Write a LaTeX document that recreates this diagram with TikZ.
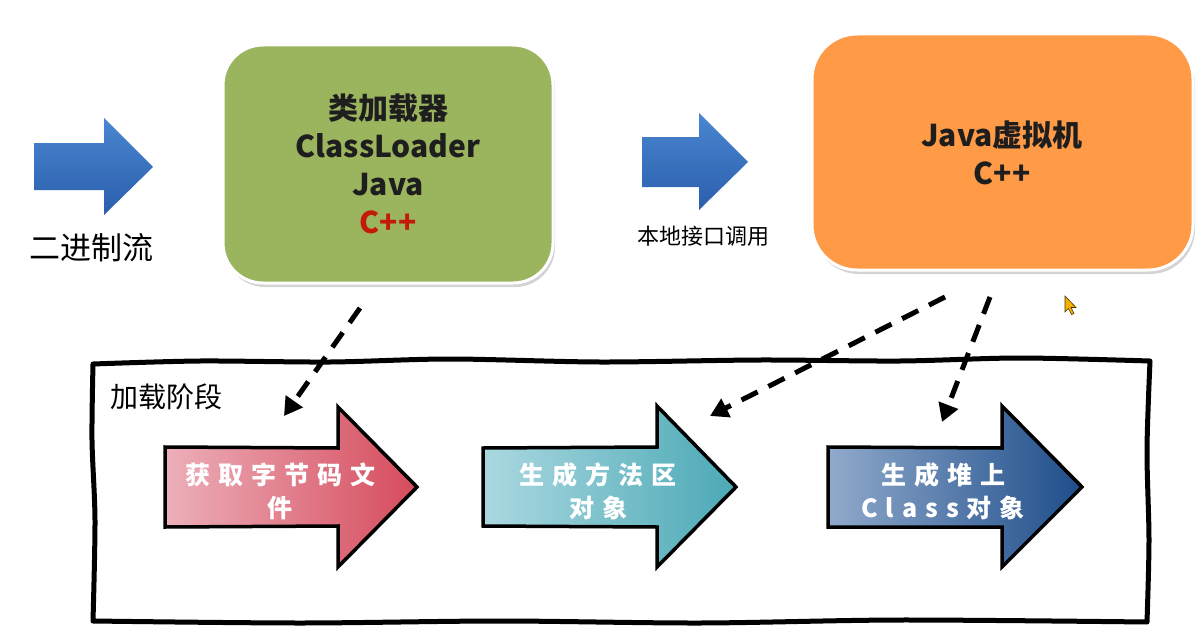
\documentclass[tikz,border=0pt]{standalone}
\usepackage{fontspec}
\setmainfont{Noto Sans CJK SC}
\usetikzlibrary{arrows.meta,shadows}
\definecolor{boxgreen}{HTML}{9BB45E}
\definecolor{boxorange}{HTML}{FF9A47}
\definecolor{bluetop}{HTML}{4A86D0}
\definecolor{bluebot}{HTML}{2A5EAC}
\definecolor{redL}{HTML}{ECB0BA}
\definecolor{redR}{HTML}{D64B5C}
\definecolor{cyanL}{HTML}{ABD8E0}
\definecolor{cyanR}{HTML}{4BA9B6}
\definecolor{navyL}{HTML}{90AACB}
\definecolor{navyR}{HTML}{1E4D8A}
\definecolor{darktext}{HTML}{1E1E1E}
\definecolor{cppred}{HTML}{C41A0A}
\definecolor{cursorfill}{HTML}{F5B000}
\begin{document}
\begin{tikzpicture}[x=1pt,y=-1pt,
  roundbox/.style={draw=white,line width=3pt,rounded corners=40pt,
    drop shadow={shadow xshift=2pt,shadow yshift=-4pt,opacity=0.35}},
  boxtext/.style={font=\fontsize{30}{38}\selectfont\bfseries,text=darktext,align=center},
  plaintext/.style={text=black},
  steparrow/.style={draw=black,line width=3.5pt,line join=miter},
  arrowtext/.style={font=\fontsize{25}{33}\selectfont\bfseries\addfontfeature{LetterSpace=32},text=white,align=center},
  dashconn/.style={line width=5pt,dash pattern=on 18pt off 12pt,-{Triangle[length=18pt,width=20pt]}},
  handbox/.style={draw=black,line width=5pt,line join=round}
]
\useasboundingbox (0,0) rectangle (1200,634);

% blue input arrows
\shade[top color=bluetop,bottom color=bluebot]
  (34,143) -- (104,143) -- (104,118) -- (153,167) -- (104,215) -- (104,190) -- (34,190) -- cycle;
\node[plaintext,font=\fontsize{31}{36}\selectfont] (bin) at (91,248) {二进制流};

\shade[top color=bluetop,bottom color=bluebot]
  (642,137) -- (699,137) -- (699,113) -- (748,162) -- (699,210) -- (699,187) -- (642,187) -- cycle;
\node[plaintext,font=\fontsize{22}{26}\selectfont] (jni) at (703,236) {本地接口调用};

% class loader box
\path[roundbox,fill=boxgreen] (223,45) rectangle (553,283);
\node[boxtext] (cl) at (388,164) {类加载器\\ClassLoader\\Java\\\textcolor{cppred}{C++}};

% JVM box
\path[roundbox,fill=boxorange,rounded corners=45pt] (812,34) rectangle (1193,270);
\node[boxtext] (jvm) at (1002,153) {Java虚拟机\\C++};

% hand-drawn loading stage frame
\draw[handbox]
  plot[smooth] coordinates {(93,364) (200,361) (330,362) (450,359) (600,362) (760,360) (900,361) (1020,358) (1150,361)}
  -- plot[smooth] coordinates {(1150,361) (1147,450) (1149,540) (1147,622)}
  -- plot[smooth] coordinates {(1147,622) (900,620) (700,623) (500,621) (300,623) (93,621)}
  -- plot[smooth] coordinates {(93,621) (95,520) (92,440) (93,364)} -- cycle;
\node[plaintext,anchor=west,font=\fontsize{28}{32}\selectfont] (stage) at (107,397) {加载阶段};

% step arrows
\draw[steparrow,left color=redL,right color=redR]
  (165,447) -- (338,448) -- (338,407) -- (417,487) -- (338,567) -- (338,526) -- (165,527) -- cycle;
\node[arrowtext] (s1) at (280,491) {获取字节码文\\件};

\draw[steparrow,left color=cyanL,right color=cyanR]
  (483,448) -- (657,447) -- (657,406) -- (736,487) -- (657,567) -- (657,527) -- (483,526) -- cycle;
\node[arrowtext] (s2) at (598,491) {生成方法区\\对象};

\draw[steparrow,left color=navyL,right color=navyR]
  (828,447) -- (1002,448) -- (1002,406) -- (1082,487) -- (1002,567) -- (1002,527) -- (828,527) -- cycle;
\node[arrowtext] (s3) at (943,491) {生成堆上\\Class对象};

% dashed connectors
\coordinate (clout) at (360,308);
\coordinate (s1in) at (284,416);
\coordinate (jvmoutA) at (945,297);
\coordinate (s2in) at (710,416);
\coordinate (jvmoutB) at (990,297);
\coordinate (s3in) at (942,422);
\draw[dashconn] (clout) -- (s1in);
\draw[dashconn] (jvmoutA) -- (s2in);
\draw[dashconn] (jvmoutB) -- (s3in);

% mouse pointer
\filldraw[fill=cursorfill,draw=black!70!cursorfill,line width=0.6pt]
  (1065,296) -- (1065,312) -- (1068.5,308.5) -- (1071.5,314.5) -- (1074,313.5) -- (1071,307.5) -- (1076,307.5) -- cycle;
\end{tikzpicture}
\end{document}
